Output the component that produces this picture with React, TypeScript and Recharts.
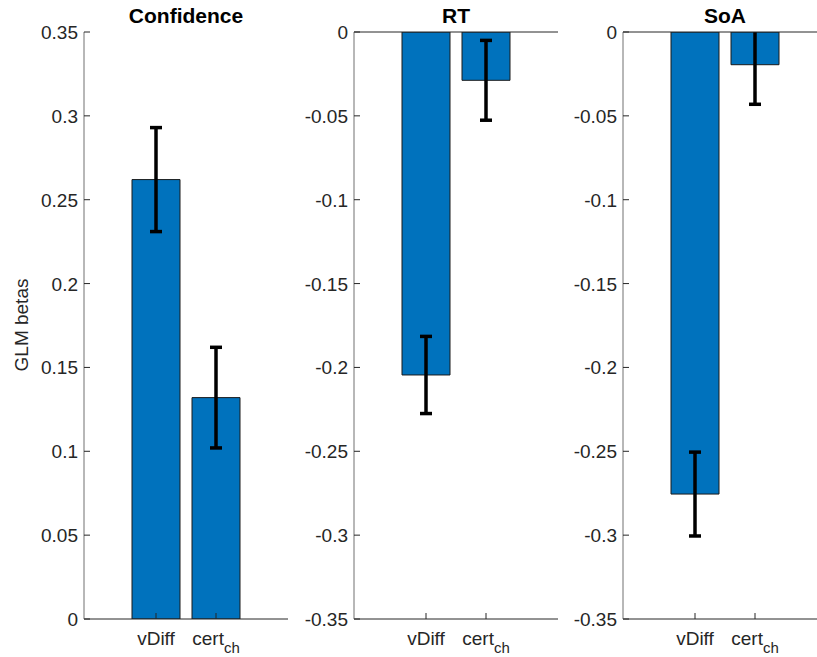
import React from "react";
import { Bar, BarChart, ErrorBar, ReferenceLine, XAxis, YAxis } from "recharts";

const categories = ["vDiff", "cert_ch"];
const panelTitles = ["Confidence", "RT", "SoA"];

const confidenceBetas = [0.262, 0.132];
const confidenceErrors = [0.031, 0.03];
const rtBetas = [-0.2045, -0.0288];
const rtErrors = [0.023, 0.0238];
const soaBetas = [-0.2755, -0.0195];
const soaErrors = [0.025, 0.0236];

const positiveTicks = [0, 0.05, 0.1, 0.15, 0.2, 0.25, 0.3, 0.35];
const negativeTicks = [-0.35, -0.3, -0.25, -0.2, -0.15, -0.1, -0.05, 0];

const FONT = '"Liberation Sans", Arial, Helvetica, sans-serif';
const AXIS_COLOR = "#262626";
const BAR_BLUE = "#0072BD";

const fmtTick = (v: number) => String(Number(v.toFixed(2)));

function YTick({ x, y, payload }: any) {
  return (
    <g>
      <line x1={x + 6} x2={x + 12} y1={y} y2={y} stroke={AXIS_COLOR} />
      <text x={x} y={y} dy={7} textAnchor="end" fontSize={19} fill={AXIS_COLOR} fontFamily={FONT}>
        {fmtTick(payload.value)}
      </text>
    </g>
  );
}

function XTick({ x, y, payload }: any) {
  const [main, sub] = String(payload.value).split("_");
  return (
    <g>
      <line x1={x} x2={x} y1={y} y2={y - 6} stroke={AXIS_COLOR} />
      <text x={x} y={y + 26} textAnchor="middle" fontSize={19} fill={AXIS_COLOR} fontFamily={FONT}>
        <tspan>{main}</tspan>
        {sub && (
          <tspan dy={8} fontSize={15}>
            {sub}
          </tspan>
        )}
      </text>
    </g>
  );
}

function Panel({
  id,
  title,
  betas,
  errors,
  ticks,
  left,
  showLabel,
}: {
  id: string;
  title: string;
  betas: number[];
  errors: number[];
  ticks: number[];
  left: number;
  showLabel?: boolean;
}) {
  const data = categories.map((c, i) => ({ name: c, value: betas[i], err: errors[i] }));
  const negative = ticks[0] < 0;
  return (
    <div style={{ position: "absolute", left, top: 0 }}>
      <BarChart width={290} height={657} data={data} margin={{ top: 32, right: 2, bottom: 0, left: 0 }}>
        <defs>
          <clipPath id={`plot-${id}`}>
            <rect x={84} y={32} width={204} height={587} />
          </clipPath>
        </defs>
        <XAxis
          dataKey="name"
          height={38}
          padding={{ left: 42, right: 42 }}
          tickSize={0}
          tickMargin={0}
          tickLine={false}
          tick={<XTick />}
          stroke={AXIS_COLOR}
          interval={0}
        />
        <YAxis
          width={84}
          domain={[ticks[0], ticks[ticks.length - 1]]}
          ticks={ticks}
          allowDataOverflow
          tickSize={0}
          tickMargin={6}
          tickLine={false}
          tick={<YTick />}
          stroke="#707070"
        />
        <Bar dataKey="value" fill={BAR_BLUE} stroke="#1a1a1a" strokeWidth={1} barSize={48} isAnimationActive={false}>
          <ErrorBar
            dataKey="err"
            width={6}
            strokeWidth={3.5}
            stroke="#000"
            clipPath={`url(#plot-${id})`}
            isAnimationActive={false}
          />
        </Bar>
        {negative && <ReferenceLine y={0} stroke={AXIS_COLOR} strokeWidth={1} />}
        <text x={186} y={23} textAnchor="middle" fontSize={21} fontWeight="bold" fill="#000" fontFamily={FONT}>
          {title}
        </text>
        {showLabel && (
          <text
            x={22}
            y={325}
            textAnchor="middle"
            fontSize={19}
            fill={AXIS_COLOR}
            fontFamily={FONT}
            transform="rotate(-90 22 325)"
            dy={6}
          >
            GLM betas
          </text>
        )}
      </BarChart>
    </div>
  );
}

export default function App() {
  return (
    <div
      style={{
        position: "absolute",
        left: 0,
        top: 0,
        width: 817,
        height: 657,
        overflow: "hidden",
        background: "#fff",
      }}
    >
      <Panel id="conf" title={panelTitles[0]} betas={confidenceBetas} errors={confidenceErrors} ticks={positiveTicks} left={0} showLabel />
      <Panel id="rt" title={panelTitles[1]} betas={rtBetas} errors={rtErrors} ticks={negativeTicks} left={270} />
      <Panel id="soa" title={panelTitles[2]} betas={soaBetas} errors={soaErrors} ticks={negativeTicks} left={539} />
    </div>
  );
}
